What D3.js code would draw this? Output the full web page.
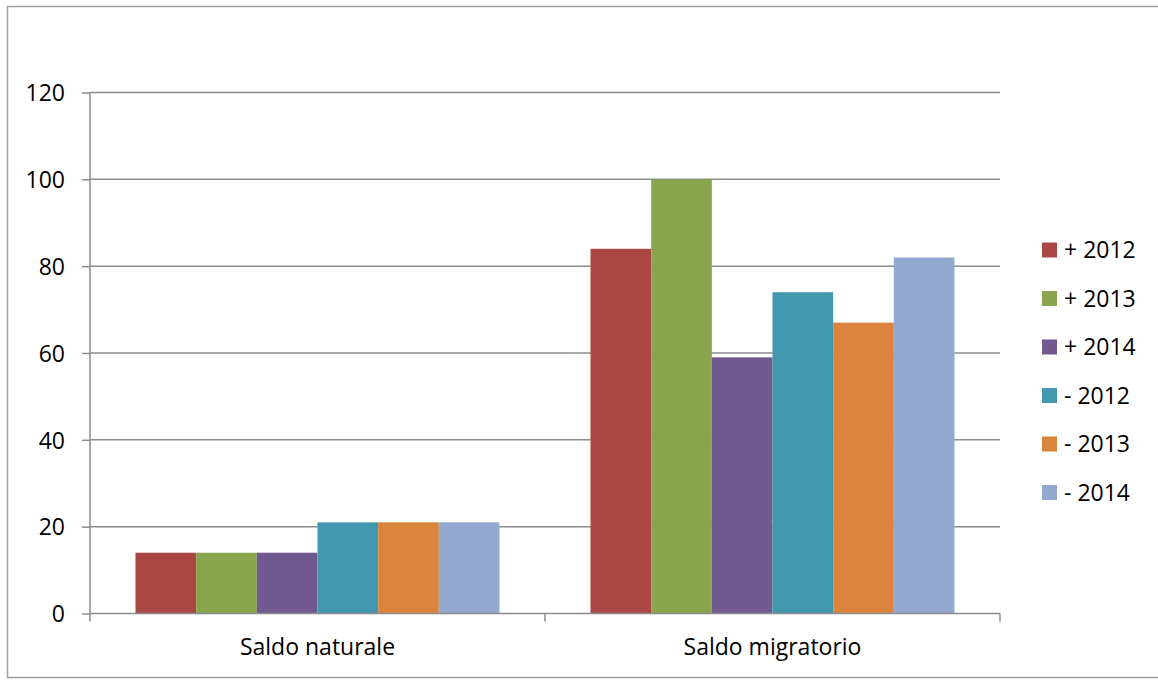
<!DOCTYPE html>
<html><head><meta charset="utf-8">
<script src="https://cdn.jsdelivr.net/npm/d3@7"></script>
<style>
html,body{margin:0;padding:0;background:#fff;}
svg text{font-family:"Open Sans","Noto Sans",sans-serif;fill:#000;}
</style></head>
<body><svg id="c" width="1158" height="680"></svg>
<script>
const categories = ["Saldo naturale", "Saldo migratorio"];
const seriesNames = ["+ 2012", "+ 2013", "+ 2014", "- 2012", "- 2013", "- 2014"];
const seriesColors = ["#AA4643", "#89A54E", "#71588F", "#4198AF", "#DB843D", "#93A9CF"];
const plus2012 = [14, 84];
const plus2013 = [14, 100];
const plus2014 = [14, 59];
const minus2012 = [21, 74];
const minus2013 = [21, 67];
const minus2014 = [21, 82];
const yTicks = [0, 20, 40, 60, 80, 100, 120];

const seriesValues = [plus2012, plus2013, plus2014, minus2012, minus2013, minus2014];

const svg = d3.select("#c");
const pLeft = 90, pRight = 1000, pTop = 92.5, pBottom = 613.5;
const fs = "23px";

// outer border
svg.append("rect").attr("x", 7.5).attr("y", 6.5).attr("width", 1160).attr("height", 671)
  .attr("fill", "none").attr("stroke", "#a0a0a0").attr("stroke-width", 1.5);

const x = d3.scaleBand().domain(categories).range([pLeft, pRight]).padding(0);
const xi = d3.scaleBand().domain(seriesNames)
  .range([x.bandwidth() * 0.1, x.bandwidth() * 0.9]).padding(0);
const y = d3.scaleLinear().domain([0, 120]).range([pBottom, pTop]);

// gridlines
svg.append("g").selectAll("line").data(yTicks.filter(d => d > 0)).join("line")
  .attr("x1", pLeft).attr("x2", pRight)
  .attr("y1", d => y(d)).attr("y2", d => y(d))
  .attr("stroke", "#8c8c8c").attr("stroke-width", 1.5);

// bars
const groups = svg.append("g").selectAll("g").data(categories).join("g")
  .attr("transform", d => `translate(${x(d)},0)`);
groups.selectAll("rect")
  .data((c, ci) => seriesNames.map((s, si) => ({s, si, v: seriesValues[si][ci]})))
  .join("rect")
  .attr("x", d => xi(d.s))
  .attr("width", xi.bandwidth())
  .attr("y", d => y(d.v))
  .attr("height", d => y(0) - y(d.v))
  .attr("fill", d => seriesColors[d.si]);

// y axis
const yAxis = d3.axisLeft(y).tickValues(yTicks).tickSize(8).tickPadding(17);
const ya = svg.append("g").attr("transform", `translate(${pLeft},0)`).call(yAxis);
ya.select(".domain").attr("stroke", "#8c8c8c").attr("stroke-width", 1.5).attr("d", `M0,${pTop}V${pBottom}`);
ya.selectAll(".tick line").attr("stroke", "#8c8c8c").attr("stroke-width", 1.5);
ya.selectAll(".tick text").style("font-size", fs).attr("dy", "0.36em");

// x axis
const xAxis = d3.axisBottom(x).tickSize(0).tickPadding(25);
const xa = svg.append("g").attr("transform", `translate(0,${pBottom})`).call(xAxis);
xa.select(".domain").attr("stroke", "#8c8c8c").attr("stroke-width", 1.5).attr("d", `M${pLeft},0H${pRight}`);
xa.selectAll(".tick text").style("font-size", fs);
// category boundary ticks
svg.append("g").selectAll("line")
  .data(categories.map(c => x(c)).concat([pRight]))
  .join("line")
  .attr("x1", d => d).attr("x2", d => d)
  .attr("y1", pBottom).attr("y2", pBottom + 8)
  .attr("stroke", "#8c8c8c").attr("stroke-width", 1.5);

// legend
const legend = svg.append("g").attr("transform", "translate(1042,250)");
const li = legend.selectAll("g").data(seriesNames).join("g")
  .attr("transform", (d, i) => `translate(0,${i * 48.5})`);
li.append("rect").attr("x", 0).attr("y", -7.5).attr("width", 15).attr("height", 15)
  .attr("fill", (d, i) => seriesColors[i]);
li.append("text").attr("x", 22).attr("y", 0).attr("dy", "0.36em")
  .style("font-size", fs).text(d => d);
</script></body></html>
